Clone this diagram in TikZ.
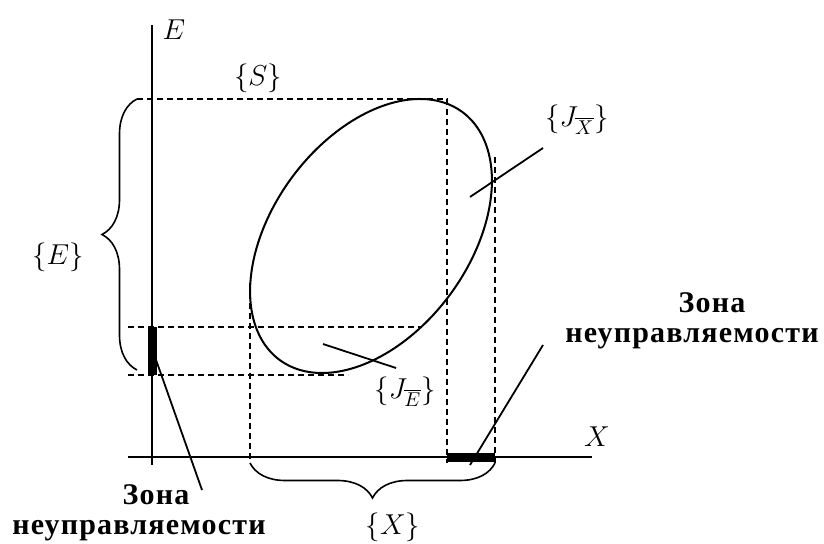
\documentclass[tikz,border=0pt]{standalone}
\usepackage{amsmath,amssymb}
\usepackage{fontspec}
\setmainfont{Liberation Serif}
\newfontfamily\zonefont[LetterSpace=4]{Liberation Serif}
\usetikzlibrary{decorations.pathreplacing,positioning}

\tikzset{
  axisline/.style={line width=1.2pt},
  proj/.style={line width=0.7pt, dash pattern=on 3pt off 2pt},
  leader/.style={line width=0.9pt},
  span/.style={decorate, decoration={brace, amplitude=17.5pt}, line width=0.8pt},
  setlabel/.style={font=\fontsize{14}{16}\selectfont, inner sep=1pt},
  zonetext/.style={font=\fontsize{15}{15}\zonefont\bfseries, align=center, inner sep=0pt},
}

\begin{document}
\begin{tikzpicture}[x=0.5pt, y=-0.5pt]
\useasboundingbox (0,0) rectangle (824,544);
% axes
\coordinate (Etop) at (152,25);
\coordinate (Ebot) at (152,465);
\coordinate (Xleft) at (128,457);
\coordinate (Xright) at (592,457);
\draw[axisline] (Ebot) -- (Etop);
\draw[axisline] (Xleft) -- (Xright);
\node[setlabel] (Elab) at (174,30) {$E$};
\node[setlabel] (Xlab) at (597,437) {$X$};

% projections of the region
\draw[proj] (137,99) -- (447,99) -- (447,463);
\draw[proj] (495,157) -- (495,463);
\draw[proj] (250,283) -- (250,463);
\draw[proj] (128,327) -- (421,327);
\draw[proj] (128,375) -- (348,375);

% region {S}
\draw[line width=1pt] plot[domain=0:360, samples=181]
  ({371+154*cos(\x)*cos(53.6)+98.4*sin(\x)*sin(53.6)},
   {236-154*cos(\x)*sin(53.6)+98.4*sin(\x)*cos(53.6)});
\node[setlabel] (S) at (258,78) {$\{S\}$};

% zones on the axes
\fill (148,327) rectangle (157,375);
\fill (447,453) rectangle (495,462);

% braces
\draw[span] (137,370) -- (137,99);
\node[setlabel] (Eset) at (58,257) {$\{E\}$};
\draw[span] (495,463) -- (250,463);
\node[setlabel] (Xset) at (393,527) {$\{X\}$};

% subsets
\node[setlabel] (JX) at (577,120) {$\{J_{\overline{X}}\}$};
\coordinate (JXa) at (543,148);
\coordinate (JXb) at (470,197);
\draw[leader] (JXa) -- (JXb);
\node[setlabel] (JE) at (405,392) {$\{J_{\overline{E}}\}$};
\coordinate (JEa) at (396,368);
\coordinate (JEb) at (323,344);
\draw[leader] (JEa) -- (JEb);

% uncontrollable zones
\node[zonetext] (zoneR) at (692,321) {\hspace*{20pt}Зона\\неуправляемости};
\coordinate (zRa) at (543,345);
\coordinate (zRb) at (470,465);
\draw[leader] (zRa) -- (zRb);
\node[zonetext] (zoneL) at (139,513) {\hspace*{17pt}Зона\\неуправляемости};
\coordinate (zLa) at (202,490);
\coordinate (zLb) at (155,357);
\draw[leader] (zLa) -- (zLb);
\end{tikzpicture}
\end{document}
